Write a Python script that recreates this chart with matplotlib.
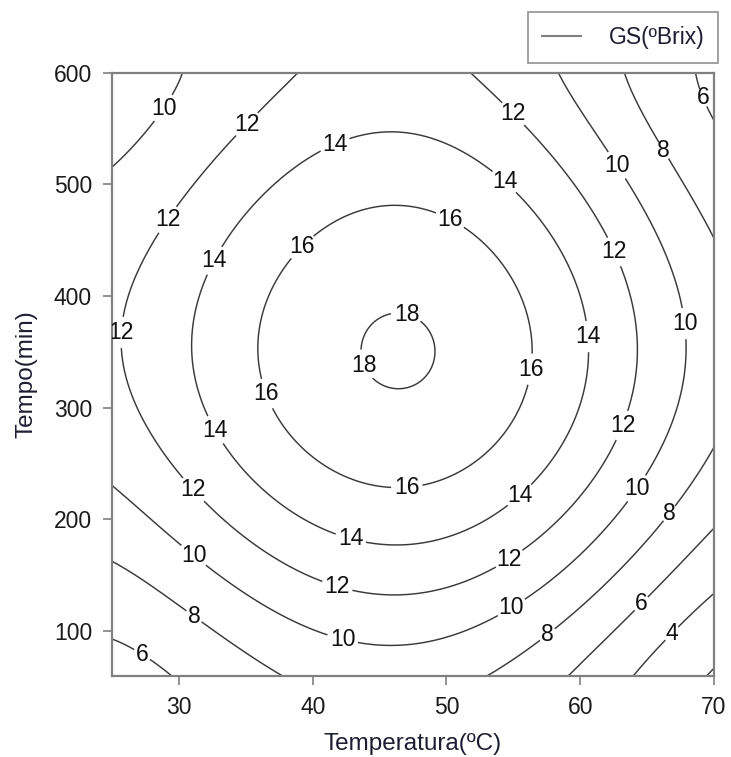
import numpy as np
import matplotlib
matplotlib.use("Agg")
import matplotlib.pyplot as plt
from matplotlib.lines import Line2D

plt.rcParams['font.family'] = ['Liberation Sans', 'DejaVu Sans']

# pontos lidos sobre as isolinhas do grafico: temperatura (C), tempo (min), nivel GS (ºBrix)
temp = [68.6, 70.0,
        64.7, 67.0, 70.0,
        25.0, 27.5, 29.6, 60.0, 64.7, 70.0, 68.0, 68.7, 70.0,
        25.0, 30.8, 36.4, 52.9, 57.6, 62.0, 66.7, 70.0, 70.0, 66.5, 64.0,
        25.0, 30.9, 36.6, 42.3, 46.5, 54.5, 58.5, 62.0, 63.7, 66.0, 67.5, 67.6, 67.2,
        66.0, 63.7, 63.0, 61.5, 59.0, 25.0, 29.1, 30.4,
        38.4, 34.7, 28.8, 26.6, 26.1, 26.2, 28.1, 31.3, 36.6, 42.0, 46.5, 49.0,
        54.3, 57.0, 60.5, 62.5, 63.7, 63.5, 62.1, 58.5, 54.9, 51.0,
        42.0, 46.5, 37.8, 35.3, 33.2, 31.6, 31.4, 33.3, 36.6, 43.0, 47.3, 50.3,
        53.8, 57.0, 59.2, 59.9, 60.0, 59.0, 55.0, 51.5,
        39.7, 44.0, 47.8, 37.0, 36.4, 36.9, 40.3, 47.0, 50.0, 53.5, 55.7, 55.9,
        54.0, 49.0,
        47.0, 44.0, 43.7, 43.8, 44.3, 46.5, 48.3, 49.5, 49.0,
        46.6]
tempo = [61, 80,
         61, 96, 129,
         101, 84, 61, 61, 123, 183, 599, 575, 556,
         155, 108, 61, 61, 96, 140, 205, 264, 474, 532, 599,
         225, 165, 122, 96, 95, 128, 158, 208, 232, 277, 343, 375, 402,
         450, 504, 519, 543, 599, 523, 566, 599,
         599, 558, 471, 417, 367, 343, 283, 229, 175, 147, 139, 149,
         172, 193, 238, 287, 343, 358, 437, 510, 562, 599,
         526, 540, 504, 477, 428, 358, 343, 284, 235, 190, 186, 525,
         495, 450, 390, 363, 343, 283, 228, 202,
         438, 471, 474, 402, 343, 314, 262, 235, 462, 432, 358, 335,
         274, 241,
         383, 372, 358, 338, 325, 313, 378, 349, 325,
         347]
gs = [2] * 2 + [4] * 3 + [6] * 9 + [8] * 11 + [10] * 21 + [12] * 22 + \
     [14] * 20 + [16] * 14 + [18] * 9 + [18.2]

niveis = [2, 4, 6, 8, 10, 12, 14, 16, 18]

# posicoes dos rotulos das isolinhas
rotulos = [(29.1, 566), (34.7, 558), (28.8, 471), (26.1, 367), (42.0, 526),
           (33.2, 428), (39.7, 438), (47.0, 383), (43.8, 338),
           (54.9, 562), (63.0, 519), (66.5, 532), (68.7, 575), (53.8, 495),
           (50.0, 462), (62.1, 437), (59.9, 363), (67.6, 375), (55.9, 335),
           (36.9, 314), (33.3, 284), (31.3, 229), (30.9, 165), (30.8, 108),
           (27.5, 84), (47.0, 235), (43.0, 190), (42.0, 147), (42.3, 96),
           (62.5, 287), (63.7, 232), (66.7, 205), (55.0, 228), (54.3, 172),
           (54.5, 128), (57.6, 96), (64.7, 123), (67.0, 96)]

# ajuste de superficie polinomial (grau 4) aos pontos lidos
T = np.array(temp)
t = np.array(tempo, dtype=float)
z = np.array(gs, dtype=float)
borda = (T <= 31) | (T >= 67) | (t <= 100) | (t >= 560)
w = np.select([z >= 18, z >= 16, borda], [8.0, 2.0, 3.5], 1.0)


def base(a, b, grau=4):
    x = (a - 47.5) / 22.5
    y = (b - 330.0) / 270.0
    termos = [x ** i * y ** j for i in range(grau + 1) for j in range(grau + 1 - i)]
    return np.stack(termos, axis=-1)


A = base(T, t)
coef, *_ = np.linalg.lstsq(A * w[:, None], z * w, rcond=None)

Tg, tg = np.meshgrid(np.linspace(25, 70, 400), np.linspace(60, 600, 400))
Z = base(Tg, tg) @ coef

fig = plt.figure(figsize=(7.31, 7.57), dpi=100)
ax = fig.add_axes([0.1535, 0.1074, 0.8231, 0.7968])

cs = ax.contour(Tg, tg, Z, levels=niveis, colors='#3a3a3a', linewidths=1.05)
txts = ax.clabel(cs, manual=rotulos, fmt='%d', fontsize=16.5, inline=True,
                 inline_spacing=3, colors='#111111')
for tx in txts:
    tx.set_rotation(0)

ax.set_xlim(25, 70)
ax.set_ylim(60, 600)
ax.set_xticks([30, 40, 50, 60, 70])
ax.set_yticks([100, 200, 300, 400, 500, 600])
for s in ax.spines.values():
    s.set_color('#808080')
    s.set_linewidth(1.6)
ax.tick_params(direction='out', length=6.5, width=1.2, color='#808080',
               labelsize=16.5, labelcolor='#1c1c1c', pad=8)

ax.set_xlabel('Temperatura(ºC)', fontsize=17.5, color='#1e1e33', labelpad=10)
ax.set_ylabel('Tempo(min)', fontsize=17.5, color='#1e1e33', labelpad=12)

h = Line2D([], [], color='#808080', linewidth=1.5)
leg = fig.legend([h], ['GS(ºBrix)'], loc='upper right',
                 bbox_to_anchor=(718 / 731, 1 - 12 / 757), frameon=True,
                 fancybox=False, edgecolor='#808080', fontsize=16.5,
                 handlelength=1.7, borderaxespad=0, borderpad=0.6,
                 handletextpad=1.2)
leg.get_frame().set_linewidth(1.3)
for txt in leg.get_texts():
    txt.set_color('#1e1e33')

fig.savefig('out.png', dpi=100)
